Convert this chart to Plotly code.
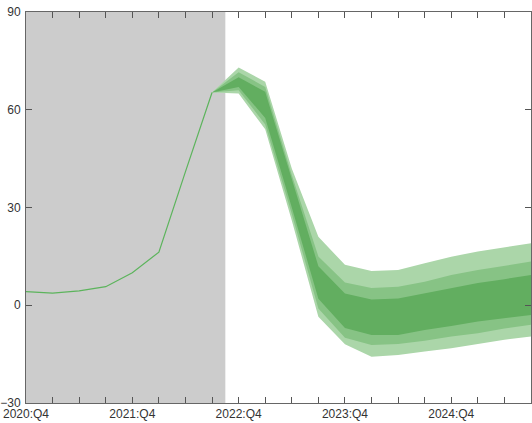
import plotly.graph_objects as go

# Quarter index 0 = 2020:Q4 ... 19 = 2025:Q3
quarters = list(range(20))
tick_positions = [0, 4, 8, 12, 16]
tick_labels = ["2020:Q4", "2021:Q4", "2022:Q4", "2023:Q4", "2024:Q4"]
y_ticks = [-30, 0, 30, 60, 90]

hist_x = [0, 1, 2, 3, 4, 5, 6, 7]
hist_y = [4.2, 3.7, 4.4, 5.7, 10.0, 16.3, 41.0, 65.3]

fan_x = [7, 8, 9, 10, 11, 12, 13, 14, 15, 16, 17, 18, 19]
outer_hi = [65.3, 73.0, 68.6, 42.0, 21.0, 12.4, 10.5, 10.8, 12.9, 14.9, 16.5, 17.8, 19.0]
mid_hi   = [65.3, 71.5, 67.0, 40.0, 15.0, 7.0, 5.3, 5.7, 7.2, 9.3, 10.8, 12.1, 13.4]
inner_hi = [65.3, 70.0, 65.5, 38.5, 12.0, 3.6, 1.8, 2.1, 3.7, 5.2, 6.8, 8.0, 9.3]
inner_lo = [65.3, 67.0, 57.5, 30.0, 2.0, -7.0, -9.1, -9.1, -7.6, -6.4, -5.0, -4.0, -3.0]
mid_lo   = [65.3, 66.0, 55.5, 28.0, -1.0, -10.0, -12.2, -11.9, -10.9, -9.6, -8.6, -7.1, -6.0]
outer_lo = [65.3, 65.0, 54.0, 26.0, -3.5, -12.0, -15.8, -15.3, -14.2, -13.2, -11.9, -10.6, -9.6]

shade_end = 7.5

fig = go.Figure()

bands = [
    (outer_hi, outer_lo, "#abd6a9"),
    (mid_hi, mid_lo, "#87c385"),
    (inner_hi, inner_lo, "#62ae60"),
]
for hi, lo, col in bands:
    fig.add_trace(go.Scatter(
        x=fan_x + fan_x[::-1],
        y=hi + lo[::-1],
        fill="toself", fillcolor=col, mode="lines",
        line=dict(width=0, color=col), hoverinfo="skip", showlegend=False,
    ))

fig.add_trace(go.Scatter(
    x=hist_x, y=hist_y, mode="lines",
    line=dict(color="#5cb45c", width=1.2), showlegend=False,
))

fig.add_shape(type="rect", xref="x", yref="paper", x0=0, x1=shade_end, y0=0, y1=1,
              fillcolor="#cccccc", line=dict(width=0), layer="below")

fig.update_layout(
    width=532, height=423,
    margin=dict(l=26, r=1, t=12, b=20, autoexpand=False),
    paper_bgcolor="white", plot_bgcolor="white",
    font=dict(family="Liberation Sans, Arial, sans-serif", size=12, color="#333333"),
    showlegend=False,
)
fig.update_xaxes(
    range=[0, 19], tickvals=tick_positions, ticktext=tick_labels, automargin=False,
    ticks="inside", ticklen=6, tickcolor="#555555", ticklabelstandoff=0,
    minor=dict(ticks="inside", dtick=1, tick0=0, ticklen=6, tickcolor="#555555"),
    showline=True, linecolor="#666666", linewidth=1, mirror="ticks",
    showgrid=False, zeroline=False,
)
fig.update_yaxes(
    range=[-30, 90], tickvals=y_ticks, automargin=False,
    ticks="inside", ticklen=6, tickcolor="#555555", ticklabelstandoff=2,
    showline=True, linecolor="#666666", linewidth=1, mirror="ticks",
    showgrid=False, zeroline=False,
)

fig.write_html("out.html", config={"displayModeBar": False},
               post_script="document.body.style.margin='0';document.body.style.padding='0';")
